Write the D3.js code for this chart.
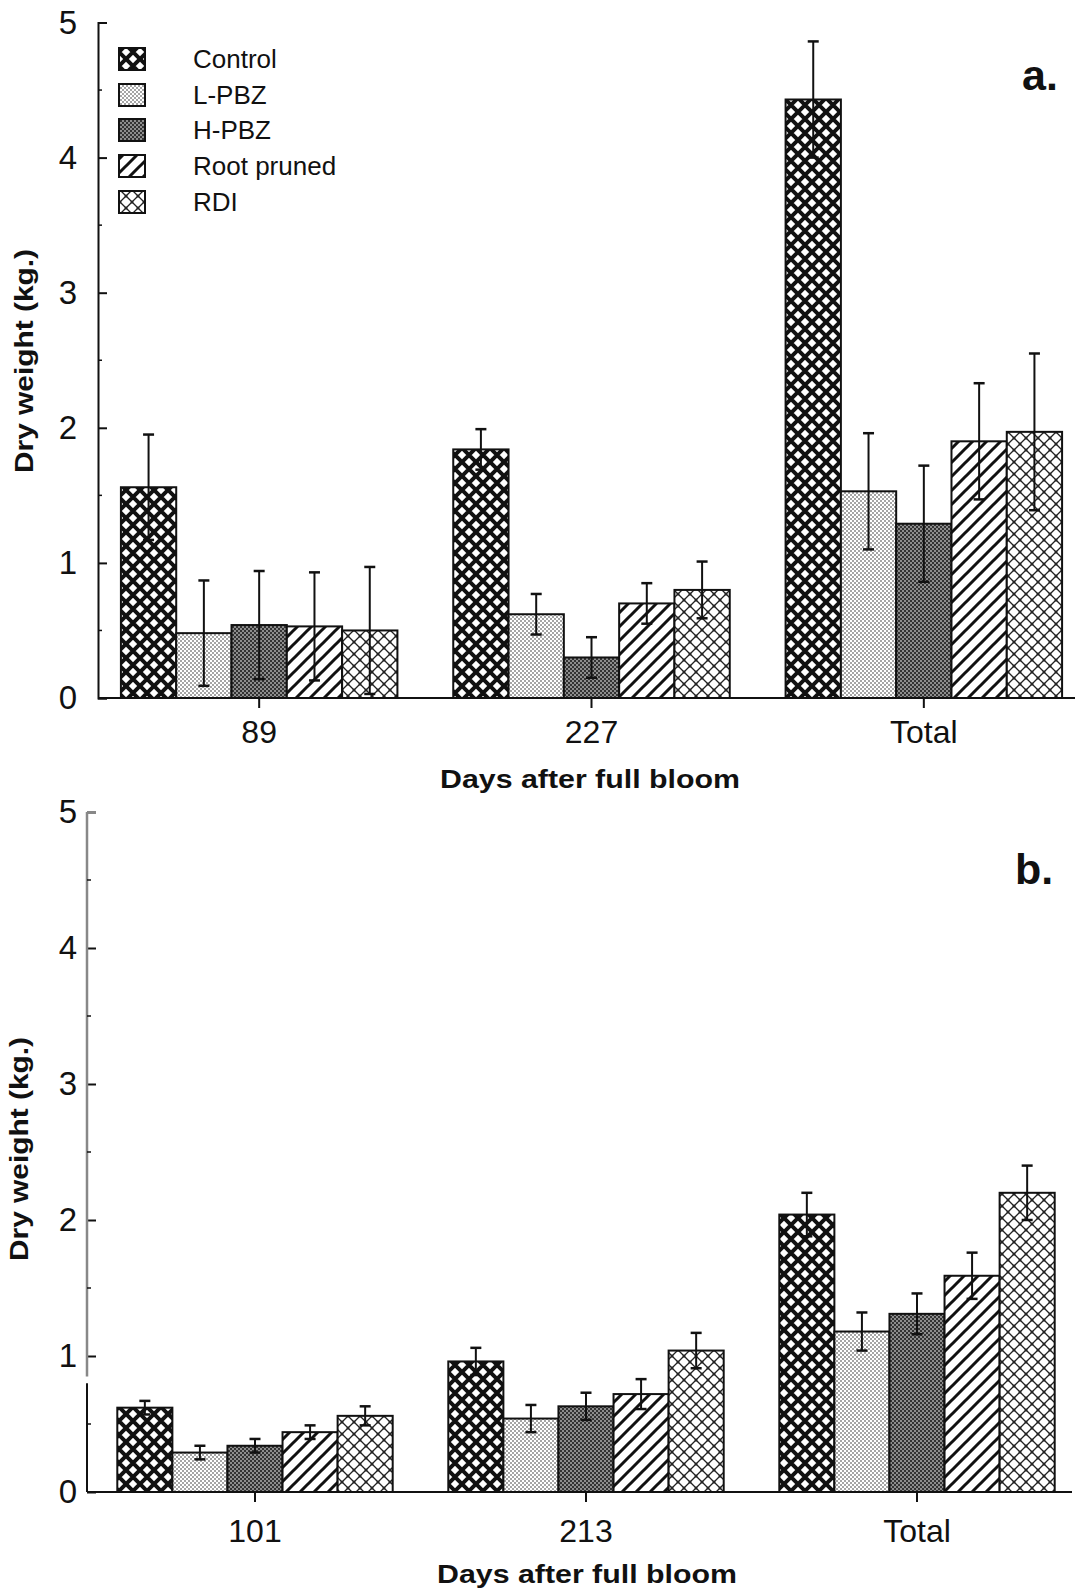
<!DOCTYPE html>
<html>
<head>
<meta charset="utf-8">
<script src="https://cdn.jsdelivr.net/npm/d3@7"></script>
<style>
  body { margin: 0; background: #fff; }
  text { font-family: "Liberation Sans", Arial, sans-serif; fill: #111; }
</style>
</head>
<body>
<div id="chart"></div>
<script>
// treatments and their fill patterns
const treatments = ['Control', 'L-PBZ', 'H-PBZ', 'Root pruned', 'RDI'];
const patternIds = ['pControl', 'pLPBZ', 'pHPBZ', 'pRoot', 'pRDI'];

// panel a: rows = treatment, cols = day
const daysA = ['89', '227', 'Total'];
const meansA = [
  [1.56, 1.84, 4.43],
  [0.48, 0.62, 1.53],
  [0.54, 0.30, 1.29],
  [0.53, 0.70, 1.90],
  [0.50, 0.80, 1.97],
];
const errA = [
  [0.39, 0.15, 0.43],
  [0.39, 0.15, 0.43],
  [0.40, 0.15, 0.43],
  [0.40, 0.15, 0.43],
  [0.47, 0.21, 0.58],
];

// panel b
const daysB = ['101', '213', 'Total'];
const meansB = [
  [0.62, 0.96, 2.04],
  [0.29, 0.54, 1.18],
  [0.34, 0.63, 1.31],
  [0.44, 0.72, 1.59],
  [0.56, 1.04, 2.20],
];
const errB = [
  [0.05, 0.10, 0.16],
  [0.05, 0.10, 0.14],
  [0.05, 0.10, 0.15],
  [0.05, 0.11, 0.17],
  [0.07, 0.13, 0.20],
];

const yTicks = [0, 1, 2, 3, 4, 5];
const yMinor = [0.5, 1.5, 2.5, 3.5, 4.5];

const svg = d3.select('#chart')
  .append('svg')
  .attr('width', 1088)
  .attr('height', 1594);

const defs = svg.append('defs');

function makePattern(id, size) {
  const p = defs.append('pattern')
    .attr('id', id)
    .attr('patternUnits', 'userSpaceOnUse')
    .attr('width', size)
    .attr('height', size);
  return p;
}

// Control: heavy diamond lattice
let p = makePattern('pControl', 14);
p.append('rect').attr('width', 14).attr('height', 14).attr('fill', '#fff');
p.append('path').attr('d', 'M-2,-2L16,16M16,-2L-2,16')
  .attr('stroke', '#111').attr('stroke-width', 4);

// L-PBZ: light stipple
p = makePattern('pLPBZ', 4);
p.append('rect').attr('width', 4).attr('height', 4).attr('fill', '#fff');
p.append('circle').attr('cx', 1).attr('cy', 1).attr('r', 0.8).attr('fill', '#333');
p.append('circle').attr('cx', 3).attr('cy', 3).attr('r', 0.8).attr('fill', '#333');

// H-PBZ: dark stipple
p = makePattern('pHPBZ', 4);
p.append('rect').attr('width', 4).attr('height', 4).attr('fill', '#333');
p.append('circle').attr('cx', 1).attr('cy', 1).attr('r', 0.8).attr('fill', '#fff');
p.append('circle').attr('cx', 3).attr('cy', 3).attr('r', 0.8).attr('fill', '#fff');

// Root pruned: "/" hatching
p = makePattern('pRoot', 14);
p.append('rect').attr('width', 14).attr('height', 14).attr('fill', '#fff');
p.append('path').attr('d', 'M-3.5,17.5L17.5,-3.5M-3.5,3.5L3.5,-3.5M10.5,17.5L17.5,10.5')
  .attr('stroke', '#111').attr('stroke-width', 3);

// RDI: thin crosshatch with dots at crossings
p = makePattern('pRDI', 12);
p.append('rect').attr('width', 12).attr('height', 12).attr('fill', '#fff');
p.append('path').attr('d', 'M-1,-1L13,13M13,-1L-1,13')
  .attr('stroke', '#222').attr('stroke-width', 1.3);
[[0, 0], [12, 0], [0, 12], [12, 12], [6, 6]].forEach(([cx, cy]) => {
  p.append('circle').attr('cx', cx).attr('cy', cy).attr('r', 1.5).attr('fill', '#222');
});

function drawPanel(o) {
  const g = svg.append('g');

  const y = d3.scaleLinear().domain([0, 5]).range(o.yRange);
  const x = d3.scaleBand()
    .domain(o.days)
    .range(o.xRange)
    .paddingInner(0.168)
    .paddingOuter(0.084);
  const xs = d3.scaleBand().domain(treatments).range([0, x.bandwidth()]);

  // bars
  treatments.forEach((t, ti) => {
    const data = o.days.map((d, di) => ({ day: d, v: o.means[ti][di], e: o.errs[ti][di] }));
    g.append('g')
      .selectAll('rect')
      .data(data)
      .join('rect')
      .attr('x', (d) => x(d.day) + xs(t))
      .attr('y', (d) => y(d.v))
      .attr('width', xs.bandwidth())
      .attr('height', (d) => y(0) - y(d.v))
      .attr('fill', 'url(#' + patternIds[ti] + ')')
      .attr('stroke', '#111')
      .attr('stroke-width', 2);

    // error bars
    const eb = g.append('g').attr('stroke', '#111');
    data.forEach((d) => {
      const cx = x(d.day) + xs(t) + xs.bandwidth() / 2;
      eb.append('line')
        .attr('x1', cx).attr('x2', cx)
        .attr('y1', y(d.v + d.e)).attr('y2', y(Math.max(d.v - d.e, 0)))
        .attr('stroke-width', 2);
      [d.v + d.e, Math.max(d.v - d.e, 0)].forEach((yy) => {
        eb.append('line')
          .attr('x1', cx - 5.5).attr('x2', cx + 5.5)
          .attr('y1', y(yy)).attr('y2', y(yy))
          .attr('stroke-width', 2.5);
      });
    });
  });

  // y axis
  const ya = g.append('g')
    .attr('transform', 'translate(' + o.axisX + ',0)')
    .call(
      d3.axisLeft(y)
        .tickValues(yTicks)
        .tickSize(-9)
        .tickPadding(o.yPad)
        .tickFormat(d3.format('d'))
    );
  ya.attr('font-size', 33).attr('font-family', null);
  ya.selectAll('line, path').attr('stroke', '#111').attr('stroke-width', 2);
  if (o.greyAxis) {
    ya.select('.domain').attr('stroke', 'none');
    ya.append('line')
      .attr('y1', y(5)).attr('y2', y(0.85))
      .attr('stroke', '#888').attr('stroke-width', 2.5);
    ya.append('line')
      .attr('y1', y(0.8)).attr('y2', y(0))
      .attr('stroke', '#111').attr('stroke-width', 2);
    ya.append('line')
      .attr('x2', 9).attr('y1', y(5)).attr('y2', y(5))
      .attr('stroke', '#888').attr('stroke-width', 2);
  }
  ya.selectAll('.minor')
    .data(yMinor)
    .join('line')
    .attr('class', 'minor')
    .attr('x1', 0).attr('x2', 4)
    .attr('y1', (d) => y(d)).attr('y2', (d) => y(d))
    .attr('stroke', '#111').attr('stroke-width', 1.5);

  // x axis
  const xa = g.append('g')
    .attr('transform', 'translate(0,' + y(0) + ')')
    .call(d3.axisBottom(x).tickSize(10).tickPadding(o.xPad));
  xa.attr('font-size', 32).attr('font-family', null);
  xa.select('.domain').remove();
  xa.selectAll('line').attr('stroke', '#111').attr('stroke-width', 2);
  xa.append('line')
    .attr('x1', o.axisX).attr('x2', o.axisEnd)
    .attr('stroke', '#111').attr('stroke-width', 2);

  // titles
  g.append('text')
    .attr('x', o.xTitle[0]).attr('y', o.xTitle[1])
    .attr('text-anchor', 'middle')
    .attr('font-size', 25)
    .attr('font-weight', 'bold')
    .attr('textLength', 300)
    .attr('lengthAdjust', 'spacingAndGlyphs')
    .text('Days after full bloom');

  g.append('text')
    .attr('transform', 'translate(' + o.yTitle[0] + ',' + o.yTitle[1] + ') rotate(-90)')
    .attr('text-anchor', 'middle')
    .attr('font-size', 25)
    .attr('font-weight', 'bold')
    .attr('textLength', 224)
    .attr('lengthAdjust', 'spacingAndGlyphs')
    .text('Dry weight (kg.)');

  g.append('text')
    .attr('x', o.label[0]).attr('y', o.label[1])
    .attr('font-size', 43)
    .attr('font-weight', 'bold')
    .text(o.labelText);

  return g;
}

drawPanel({
  days: daysA, means: meansA, errs: errA,
  yRange: [698, 22.5], xRange: [93, 1090],
  axisX: 98, axisEnd: 1075, yPad: 21, xPad: 12,
  xTitle: [590, 788], yTitle: [33, 361],
  label: [1022, 90], labelText: 'a.',
});

drawPanel({
  days: daysB, means: meansB, errs: errB,
  yRange: [1492, 812], xRange: [89.5, 1082.5],
  axisX: 87, axisEnd: 1072, yPad: 10, xPad: 17, greyAxis: true,
  xTitle: [587, 1583], yTitle: [28, 1149],
  label: [1015, 884], labelText: 'b.',
});

// legend
const legendY = [59, 95, 130, 166, 202];
const legend = svg.append('g')
  .selectAll('g')
  .data(treatments)
  .join('g')
  .attr('transform', (d, i) => 'translate(0,' + legendY[i] + ')');

legend.append('rect')
  .attr('x', 119).attr('y', -11)
  .attr('width', 26).attr('height', 22)
  .attr('fill', (d, i) => 'url(#' + patternIds[i] + ')')
  .attr('stroke', '#111')
  .attr('stroke-width', 2);

legend.append('text')
  .attr('x', 193).attr('y', 9)
  .attr('font-size', 26)
  .text((d) => d);
</script>
</body>
</html>
